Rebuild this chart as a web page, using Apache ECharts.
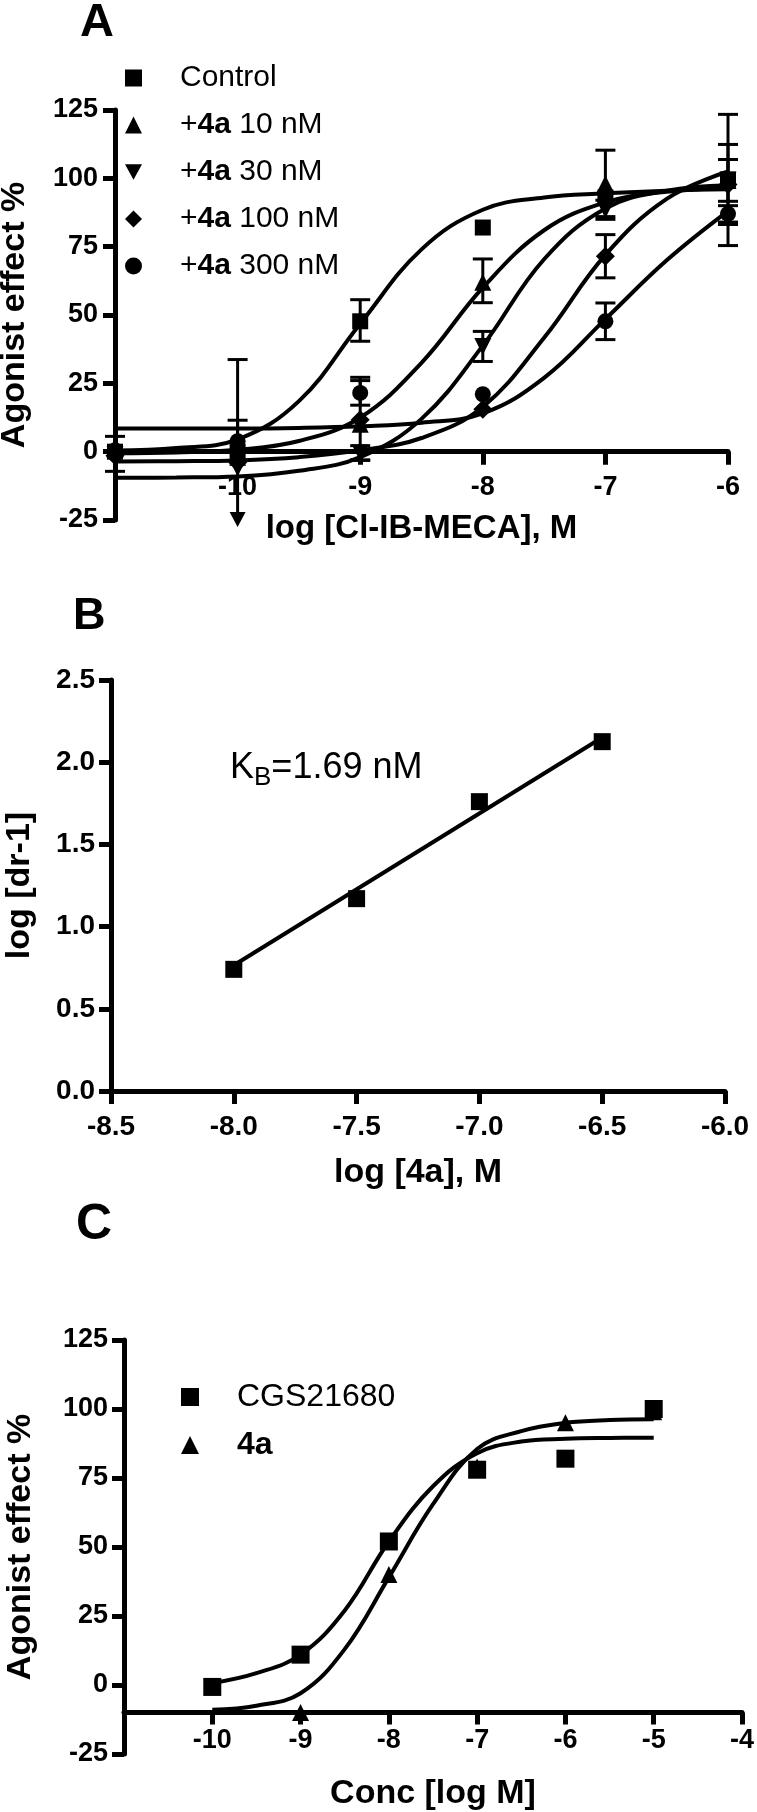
<!DOCTYPE html>
<html>
<head>
<meta charset="utf-8">
<script src="https://cdn.jsdelivr.net/npm/echarts@6/dist/echarts.min.js"></script>
<style>
html,body{margin:0;padding:0;background:#fff;}
#chart{width:757px;height:1812px;}
</style>
</head>
<body>
<div id="chart"></div>
<script>
// ---------- Panel A data ----------
const doseA = [-11, -10, -9, -8, -7, -6];
const controlA = [0, 0, 47.7, 82, 93, 99.5];
const nm10A = [1, -2, 10, 62, 98, 99.2];
const nm30A = [-1, -6, -0.5, 38.5, 88.5, 99.4];
const nm100A = [-1.5, -4, 11.7, 15.5, 71.5, 97.7];
const nm300A = [0.5, 3.8, 21.5, 21, 47.7, 87];
// error bars: [x, low, high, twoSided]
const errControlA = [[-9, 40.4, 55.6, 1]];
const err10A = [[-10, -2, 11.5, 0], [-8, 54.5, 70.5, 1], [-7, 86, 110.3, 1], [-6, 91.6, 106.9, 1]];
const err30A = [[-11, -7.2, 5.6, 1], [-9, -3.2, 2.2, 1], [-8, 33, 44, 1], [-7, 85, 92, 1], [-6, 75.4, 123.4, 1]];
const err100A = [[-9, -3, 26, 1], [-7, 63.6, 79.4, 1], [-6, 83.1, 112.4, 1]];
const err300A = [[-10, -26.2, 33.7, 1], [-9, 17, 27.2, 1], [-7, 41, 54.4, 1], [-6, 84, 90, 1]];
// fitted curves
const curveXA = [-11, -10.5, -10, -9.5, -9, -8.5, -8, -7.5, -7, -6.5, -6];
const controlCurveA = [0.4, 1.3, 4.5, 18.5, 46.8, 74, 88.5, 93, 94.5, 95.5, 96];
const nm10CurveA = [-0.6, -0.3, 0.7, 3.9, 12.5, 32.5, 60, 81, 91.2, 95.1, 96.5];
const nm30CurveA = [-9.55, -9.45, -9.05, -7, -2, 12, 38.8, 70.4, 89, 95.5, 97.5];
const nm100CurveA = [-3.6, -3.5, -3.2, -2.0, 0.5, 5, 16.4, 41.7, 72, 92.5, 102.5];
const nm300CurveA = [8.5, 8.5, 8.5, 8.7, 9.3, 10.6, 14, 27, 48.5, 70, 88];
const namesA = ['Control', '+4a 10 nM', '+4a 30 nM', '+4a 100 nM', '+4a 300 nM'];

// ---------- Panel B data ----------
const logAntB = [-8, -7.5, -7, -6.5];
const logDrB = [0.74, 1.17, 1.76, 2.125];
const fitXB = [-8, -6.5];
const fitYB = [0.765, 2.15];

// ---------- Panel C data ----------
const doseC = [-10, -9, -8, -7, -6, -5];
const cgsC = [-0.7, 11, 52, 78, 82, 100];
const dose4aC = [-9, -8, -7, -6, -5];
const a4C = [-10, 40, 79, 95, 99];
const curveXC = [-10, -9.5, -9, -8.5, -8, -7.5, -7, -6.5, -6, -5.5, -5];
const cgsCurveC = [0.7, 4.3, 11, 27, 52, 72, 84, 88.2, 89.2, 89.5, 89.6];
const a4CurveC = [-9, -7.5, -3, 13, 39, 65.5, 85.5, 92, 95, 96, 96.3];
const namesC = ['CGS21680', '4a'];

// ---------- helpers ----------
const FONT = 'Liberation Sans, Arial, Helvetica, sans-serif';
const BLACK = '#000';
const zip = (xs, ys) => xs.map((x, i) => [x, ys[i]]);
const downTri = 'path://M0,0L10,0L5,9Z';
const Y_MIN_A = -25;

function errRender(params, api) {
  const x = api.value(0), lo = api.value(1), hi = api.value(2), two = api.value(3);
  const stroke = {stroke: BLACK, lineWidth: 3};
  const cap = 10;
  const top = api.coord([x, hi]);
  const children = [];
  children.push({type: 'line', shape: {x1: top[0] - cap, y1: top[1], x2: top[0] + cap, y2: top[1]}, style: stroke});
  if (two && lo < Y_MIN_A) {
    const b = api.coord([x, Y_MIN_A]);
    const tip = b[1] + 7;
    children.push({type: 'line', shape: {x1: top[0], y1: top[1], x2: b[0], y2: tip - 12}, style: stroke});
    children.push({type: 'polygon', shape: {points: [[b[0] - 8, tip - 15], [b[0] + 8, tip - 15], [b[0], tip]]}, style: {fill: BLACK}});
  } else {
    const b = api.coord([x, lo]);
    children.push({type: 'line', shape: {x1: top[0], y1: top[1], x2: b[0], y2: b[1]}, style: stroke});
    if (two) children.push({type: 'line', shape: {x1: b[0] - cap, y1: b[1], x2: b[0] + cap, y2: b[1]}, style: stroke});
  }
  return {type: 'group', children};
}

function axisCommon(o) {
  return Object.assign({
    type: 'value',
    splitLine: {show: false},
    axisLine: {show: true, onZero: false, lineStyle: {color: BLACK, width: 5}},
    axisTick: {show: true, length: 12, lineStyle: {color: BLACK, width: 5}},
    nameLocation: 'middle',
    nameMoveOverlap: false,
    nameTextStyle: {fontFamily: FONT, fontWeight: 'bold', fontSize: 34, color: BLACK}
  }, o);
}
function lbl(size, margin, fmt) {
  return {fontFamily: FONT, fontWeight: 'bold', fontSize: size, color: BLACK, margin: margin, formatter: fmt, showMinLabel: true, showMaxLabel: true, hideOverlap: false};
}
const hideFirst = (min) => (v) => (v === min ? '' : String(v));
const fixed1 = (v) => v.toFixed(1);
const hidden = (grid, min, max) => ({type: 'value', gridIndex: grid, min: min, max: max, show: false, splitLine: {show: false}});

const curveLine = (name, xs, ys, xi, yi) => ({
  type: 'line', name: name, xAxisIndex: xi, yAxisIndex: yi, data: zip(xs, ys),
  smooth: 0.4, showSymbol: false, symbol: 'none', silent: true, z: 2,
  lineStyle: {color: BLACK, width: 4}
});
const points = (name, xs, ys, xi, yi, symbol, size) => ({
  type: 'scatter', name: name, xAxisIndex: xi, yAxisIndex: yi, data: zip(xs, ys),
  symbol: symbol, symbolSize: size, z: 4, itemStyle: {color: BLACK, opacity: 1}
});
const errSeries = (data) => ({
  type: 'custom', xAxisIndex: 0, yAxisIndex: 0, data: data, renderItem: errRender, z: 3, silent: true,
  encode: {x: 0, y: [1, 2]}
});

const legendText = (size, pad) => ({
  fontFamily: FONT, fontSize: size, color: BLACK, lineHeight: size,
  rich: {
    b: {fontFamily: FONT, fontSize: size, fontWeight: 'bold', color: BLACK, lineHeight: size},
    sp: {width: pad, lineHeight: size}
  }
});

const gridA = {left: 115, top: 110, width: 613, height: 410};
const gridB = {left: 111, top: 680, width: 614, height: 411};
const gridC = {left: 124, top: 1340, width: 618, height: 414};
// value at which the x axis crosses the y axis
const crossA = 0, crossC = -10;
const overlay = (g, ymin, ymax, cross) => ({
  left: g.left, top: g.top, width: g.width,
  height: g.height * (ymax - cross) / (ymax - ymin),
  outerBoundsMode: 'none', containLabel: false
});

const option = {
  animation: false,
  backgroundColor: '#fff',
  grid: [
    Object.assign({outerBoundsMode: 'none', containLabel: false}, gridA),
    Object.assign({outerBoundsMode: 'none', containLabel: false}, gridB),
    Object.assign({outerBoundsMode: 'none', containLabel: false}, gridC),
    overlay(gridA, -25, 125, crossA),
    overlay(gridC, -25, 125, crossC)
  ],
  xAxis: [
    hidden(0, -11, -6),
    axisCommon({gridIndex: 1, min: -8.5, max: -6, interval: 0.5,
      axisTick: {show: true, length: 13, lineStyle: {color: BLACK, width: 5}},
      axisLabel: lbl(28, 22, fixed1),
      name: 'log [4a], M', nameGap: 65}),
    hidden(2, -11, -4),
    axisCommon({gridIndex: 3, min: -11, max: -6, interval: 1,
      axisTick: {show: true, length: 13, lineStyle: {color: BLACK, width: 5}},
      axisLabel: lbl(27, 22, hideFirst(-11)),
      name: 'log [Cl-IB-MECA], M', nameGap: 61,
      nameTextStyle: {fontFamily: FONT, fontWeight: 'bold', fontSize: 33, color: BLACK}}),
    axisCommon({gridIndex: 4, min: -11, max: -4, interval: 1,
      axisTick: {show: true, length: 12, lineStyle: {color: BLACK, width: 5}},
      axisLabel: lbl(27, 14, hideFirst(-11)),
      name: 'Conc [log M]', nameGap: 64})
  ],
  yAxis: [
    axisCommon({gridIndex: 0, min: -25, max: 125, interval: 25,
      axisLabel: lbl(27, 17), name: 'Agonist effect %', nameGap: 83}),
    axisCommon({gridIndex: 1, min: 0, max: 2.5, interval: 0.5,
      axisLabel: lbl(28, 16, fixed1), name: 'log [dr-1]', nameGap: 74}),
    axisCommon({gridIndex: 2, min: -25, max: 125, interval: 25,
      axisLabel: lbl(27, 16), name: 'Agonist effect %', nameGap: 86}),
    hidden(3, 0, 1),
    hidden(4, 0, 1)
  ],
  legend: [
    {data: namesA, orient: 'vertical', left: 120, top: 58, itemWidth: 17, itemHeight: 17, itemGap: 17,
      selectedMode: false, formatter: (n) => '{sp|}' + n.replace('4a', '{b|4a}'), textStyle: legendText(30, 33)},
    {data: namesC, orient: 'vertical', left: 176, top: 1376, itemWidth: 18, itemHeight: 18, itemGap: 16,
      selectedMode: false, formatter: (n) => '{sp|}' + n.replace(/^4a$/, '{b|4a}'), textStyle: legendText(32, 33)}
  ],
  graphic: [
    {type: 'text', left: 80, top: 0, style: {text: 'A', fontFamily: FONT, fontWeight: 'bold', fontSize: 47, fill: BLACK}},
    {type: 'text', left: 73, top: 594, style: {text: 'B', fontFamily: FONT, fontWeight: 'bold', fontSize: 45, fill: BLACK}},
    {type: 'text', left: 76, top: 1200, style: {text: 'C', fontFamily: FONT, fontWeight: 'bold', fontSize: 50, fill: BLACK}},
    {type: 'text', left: 230, top: 750, style: {
      text: '{n|K}{s|B}{n|=1.69 nM}',
      rich: {
        n: {fontFamily: FONT, fontSize: 36, fill: BLACK, lineHeight: 36, verticalAlign: 'top'},
        s: {fontFamily: FONT, fontSize: 26, fill: BLACK, verticalAlign: 'top', padding: [15, 0, 0, 0]}
      }}}
  ],
  series: [
    curveLine('cA0', curveXA, controlCurveA, 0, 0),
    curveLine('cA1', curveXA, nm10CurveA, 0, 0),
    curveLine('cA2', curveXA, nm30CurveA, 0, 0),
    curveLine('cA3', curveXA, nm100CurveA, 0, 0),
    curveLine('cA4', curveXA, nm300CurveA, 0, 0),
    errSeries(errControlA), errSeries(err10A), errSeries(err30A), errSeries(err100A), errSeries(err300A),
    points(namesA[0], doseA, controlA, 0, 0, 'rect', 16),
    points(namesA[1], doseA, nm10A, 0, 0, 'triangle', 17),
    points(namesA[2], doseA, nm30A, 0, 0, downTri, 17),
    points(namesA[3], doseA, nm100A, 0, 0, 'diamond', 19),
    points(namesA[4], doseA, nm300A, 0, 0, 'circle', 16),
    curveLine('fitB', fitXB, fitYB, 1, 1),
    points('B', logAntB, logDrB, 1, 1, 'rect', 17),
    curveLine('cC0', curveXC, cgsCurveC, 2, 2),
    curveLine('cC1', curveXC, a4CurveC, 2, 2),
    points(namesC[0], doseC, cgsC, 2, 2, 'rect', 18),
    points(namesC[1], dose4aC, a4C, 2, 2, 'triangle', 17)
  ]
};

const chart = echarts.init(document.getElementById('chart'), null, {renderer: 'canvas'});
chart.setOption(option);
</script>
</body>
</html>
